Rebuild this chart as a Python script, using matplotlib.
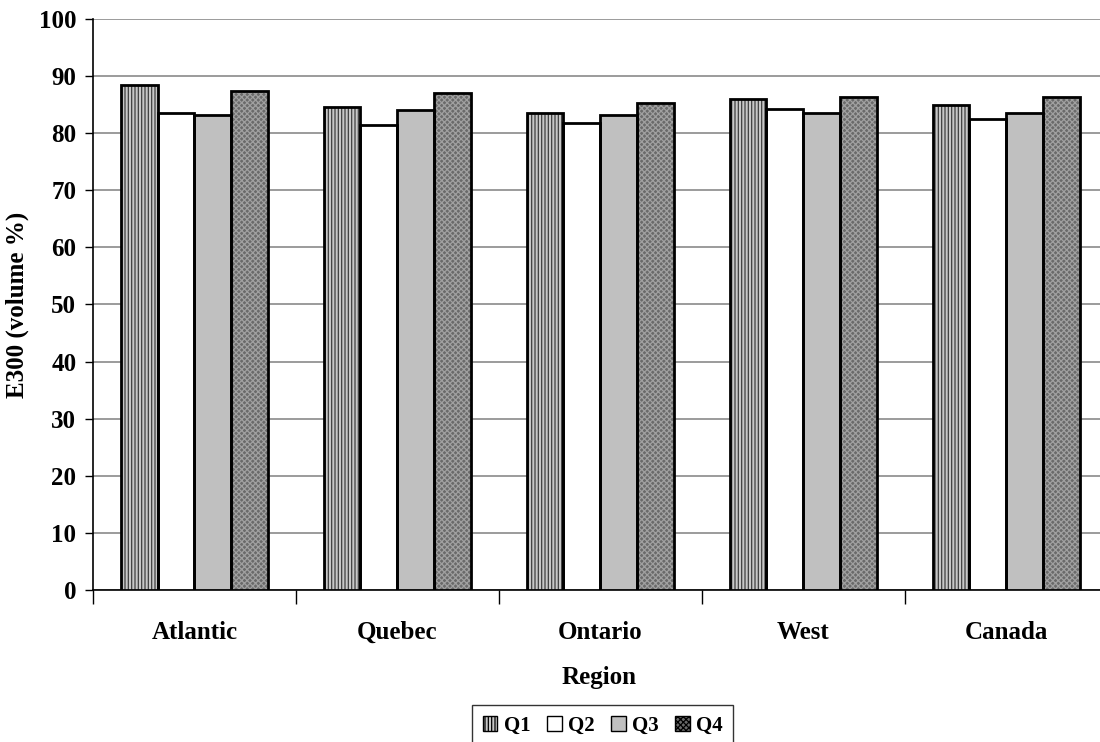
import matplotlib.pyplot as plt
import numpy as np

regions = ["Atlantic", "Quebec", "Ontario", "West", "Canada"]
quarters = ["Q1", "Q2", "Q3", "Q4"]
q1 = [88.5, 84.6, 83.6, 86.0, 85.0]
q2 = [83.5, 81.5, 81.8, 84.3, 82.5]
q3 = [83.2, 84.0, 83.2, 83.6, 83.6]
q4 = [87.4, 87.0, 85.3, 86.4, 86.4]

plt.rcParams["font.family"] = ["Liberation Serif", "DejaVu Serif"]
plt.rcParams["font.weight"] = "bold"
plt.rcParams["hatch.linewidth"] = 0.9

fig = plt.figure(figsize=(11, 7.42), dpi=100)
ax = fig.add_axes([0.0845, 0.2049, 0.9227, 0.7695])

styles = [
    dict(facecolor="#c8c8c8", hatch="|||||", edgecolor="#404040"),
    dict(facecolor="white", hatch=None, edgecolor="black"),
    dict(facecolor="#c0c0c0", hatch=None, edgecolor="black"),
    dict(facecolor="#6a6a6a", hatch="xxxxxx", edgecolor="#a0a0a0"),
]

x = np.arange(len(regions))
w = 0.182
series = [q1, q2, q3, q4]
for i, (vals, st) in enumerate(zip(series, styles)):
    pos = x + (i - 1.5) * w
    ax.bar(pos, vals, width=w, label=quarters[i], zorder=3,
           facecolor=st["facecolor"], hatch=st["hatch"],
           edgecolor=st["edgecolor"], linewidth=0)
    # black outline drawn separately so the hatch colour can differ
    ax.bar(pos, vals, width=w, facecolor="none", edgecolor="black",
           linewidth=2, zorder=4)

ax.set_xlim(-0.5, len(regions) - 0.5)
ax.set_ylim(0, 100)
ax.set_yticks(np.arange(0, 101, 10))
ax.yaxis.grid(True, color="#808080", linewidth=1.1, zorder=0)
ax.set_axisbelow(True)

ax.set_xticks(np.arange(-0.5, len(regions), 1.0))
ax.set_xticklabels([])
ax.set_xticks(x, minor=True)
ax.set_xticklabels(regions, minor=True, fontsize=18, fontweight="bold")
ax.tick_params(axis="x", which="major", length=10, width=1, direction="out")
ax.tick_params(axis="x", which="minor", length=0, pad=22)
ax.tick_params(axis="y", length=6, width=1, labelsize=18, pad=6)
for lab in ax.get_yticklabels():
    lab.set_fontweight("bold")

ax.spines["top"].set_visible(False)
ax.spines["right"].set_visible(False)
ax.spines["left"].set_linewidth(1.2)
ax.spines["bottom"].set_linewidth(1.2)

ax.set_ylabel("E300 (volume %)", fontsize=18, fontweight="bold", labelpad=7)
fig.text(0.545, 0.087, "Region", ha="center", va="center",
         fontsize=18, fontweight="bold")

handles = ax.containers[0::2]
leg = fig.legend(handles, quarters, loc="center", ncol=4,
                 bbox_to_anchor=(0.548, 0.022), frameon=True, fancybox=False,
                 edgecolor="black", fontsize=15, handlelength=0.7,
                 handleheight=0.7, handletextpad=0.3, columnspacing=0.8,
                 borderpad=0.5, borderaxespad=0)
leg.get_frame().set_linewidth(1.0)
for patch in leg.get_patches():
    patch.set_edgecolor("black")
    patch.set_linewidth(1)

fig.savefig("out.png", dpi=100)
